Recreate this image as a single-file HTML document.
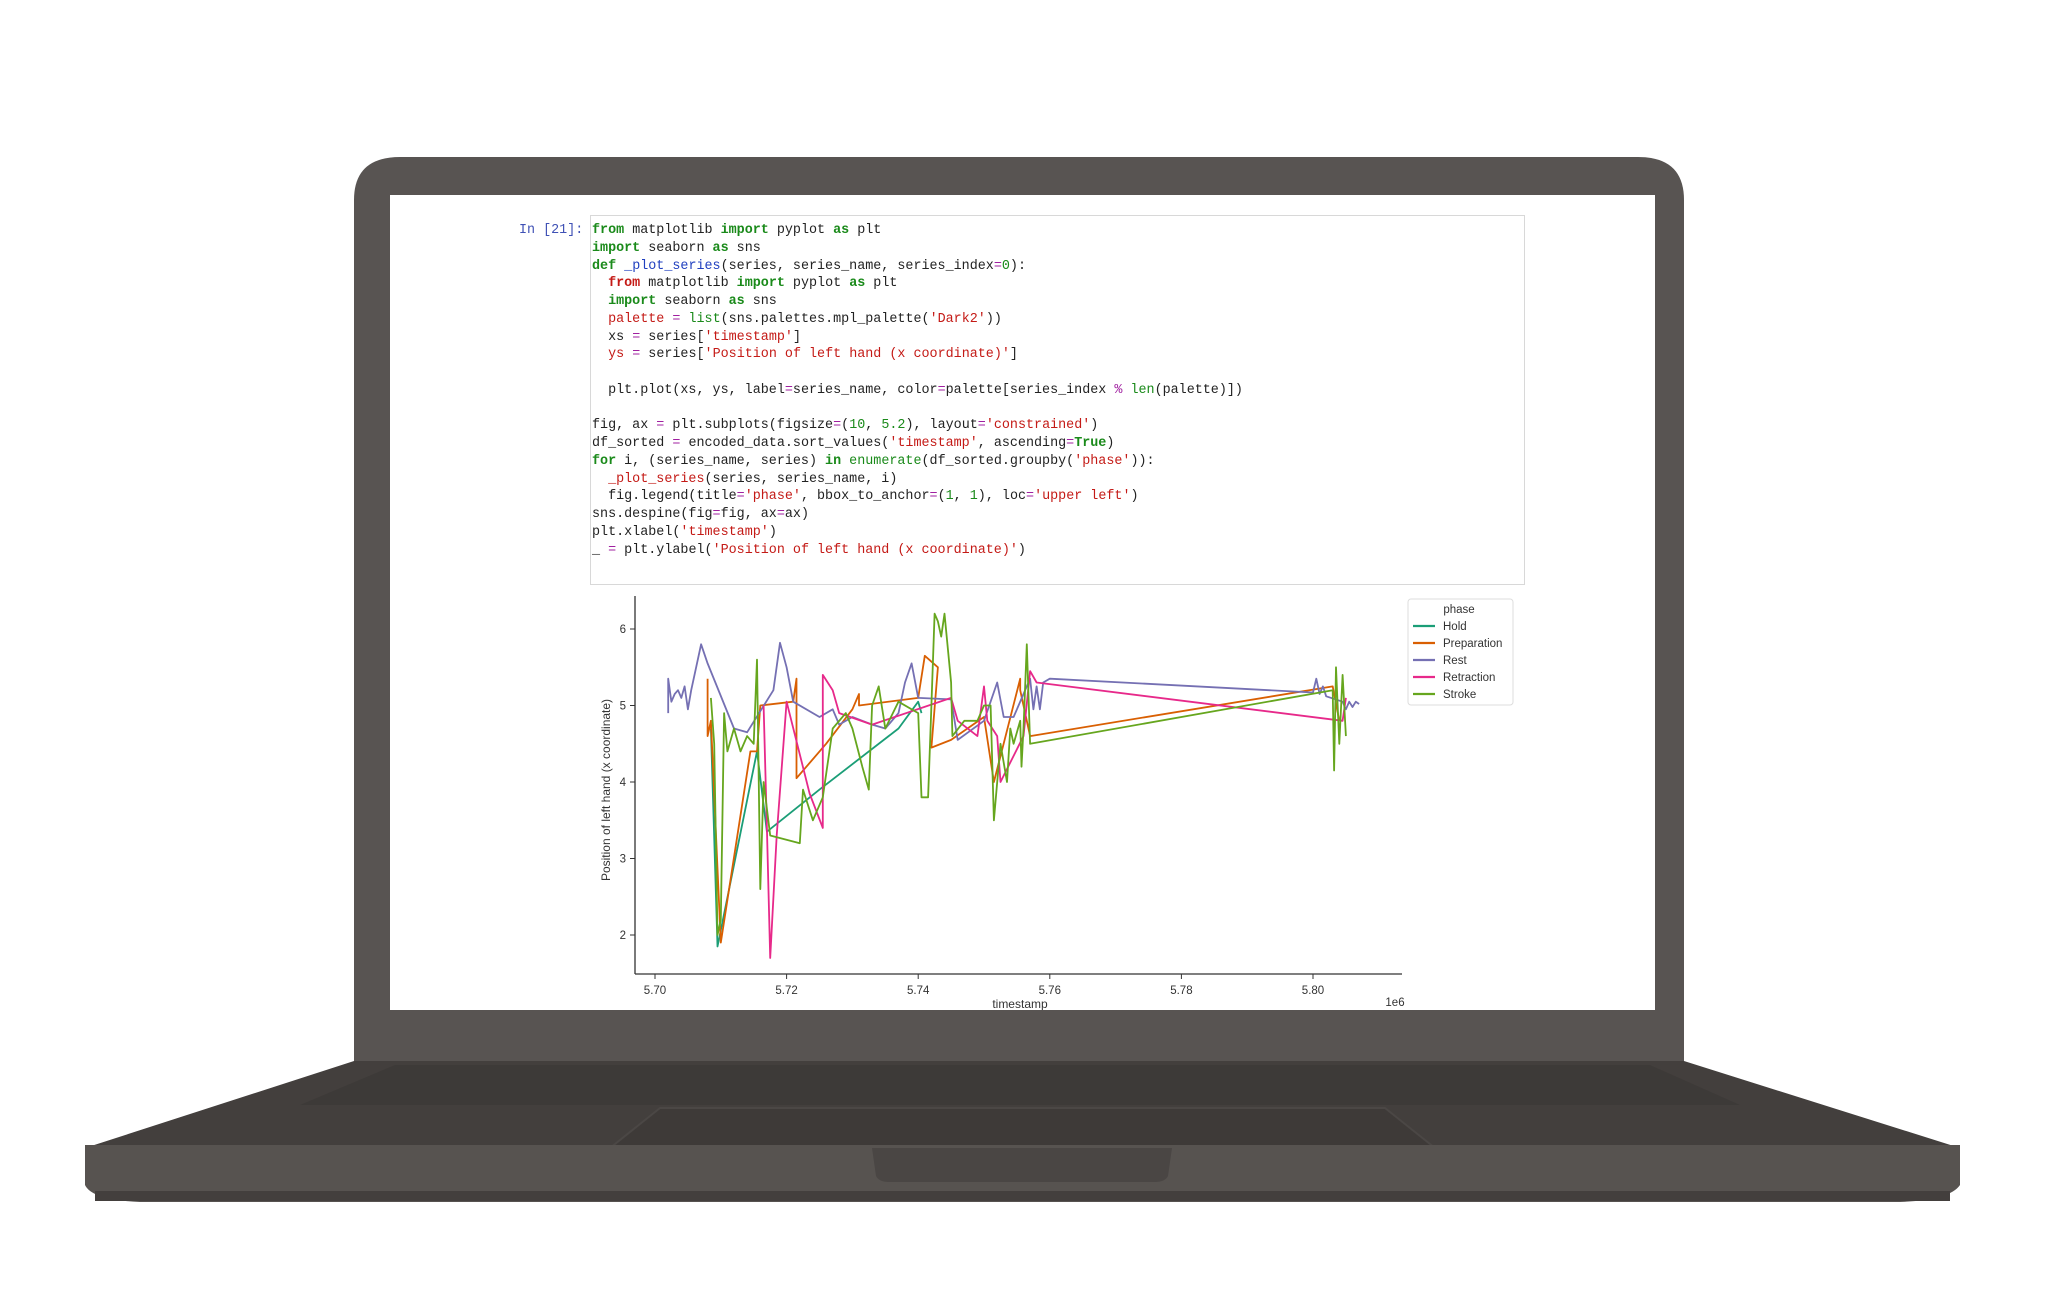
<!DOCTYPE html>
<html><head><meta charset="utf-8">
<style>
html,body{margin:0;padding:0;background:#fff;}
body{width:2046px;height:1291px;position:relative;overflow:hidden;font-family:"Liberation Sans",sans-serif;}
.code{position:absolute;left:592px;top:222px;font-family:"Liberation Mono",monospace;font-size:13.4px;line-height:17.75px;color:#222;white-space:pre;}
.kw{color:#1a8a1a;font-weight:bold}.st{color:#c41a16}.nm{color:#1a8a1a}.fn{color:#1f3fbf}.op{color:#a020a0}
</style></head><body>
<svg width="2046" height="1291" style="position:absolute;left:0;top:0">
  <path d="M354,1065 L354,200 Q354,157 400,157 L1638,157 Q1684,157 1684,200 L1684,1065 Z" fill="#585452"/>
  <rect x="390" y="195" width="1265" height="815" fill="#fff"/>
  <path d="M354,1061 L1684,1061 L1960,1148 L85,1148 Z" fill="#433f3d"/>
  <path d="M395,1065 L1650,1065 L1740,1105 L300,1105 Z" fill="#3b3735" opacity="0.6"/>
  <path d="M660,1108 L1385,1108 L1440,1152 L605,1152 Z" fill="#3e3a38" stroke="#4b4745" stroke-width="2"/>
  <path d="M85,1145 L1960,1145 L1960,1185 Q1950,1200 1900,1202 L140,1202 Q92,1200 85,1185 Z" fill="#575350"/>
  <rect x="95" y="1191" width="1855" height="10" fill="#433f3d"/>
  <path d="M872,1148 L1172,1148 L1168,1176 Q1165,1182 1155,1182 L889,1182 Q879,1182 876,1176 Z" fill="#4a4644"/>
</svg>

<div style="position:absolute;left:519px;top:222px;font-family:'Liberation Mono',monospace;font-size:13.4px;line-height:17.75px;color:#3f51b5">In [21]:</div>
<div style="position:absolute;left:590px;top:215px;width:933px;height:368px;border:1px solid #d8d8d8;background:#fff"></div>
<div class="code"><span class="kw">from</span> matplotlib <span class="kw">import</span> pyplot <span class="kw">as</span> plt
<span class="kw">import</span> seaborn <span class="kw">as</span> sns
<span class="kw">def</span> <span class="fn">_plot_series</span>(series, series_name, series_index<span class="op">=</span><span class="nm">0</span>):
  <span class="kw" style="color:#c41a16">from</span> matplotlib <span class="kw">import</span> pyplot <span class="kw">as</span> plt
  <span class="kw">import</span> seaborn <span class="kw">as</span> sns
  <span class="st">palette</span> <span class="op">=</span> <span class="nm">list</span>(sns.palettes.mpl_palette(<span class="st">'Dark2'</span>))
  xs <span class="op">=</span> series[<span class="st">'timestamp'</span>]
  <span class="st">ys</span> <span class="op">=</span> series[<span class="st">'Position of left hand (x coordinate)'</span>]

  plt.plot(xs, ys, label<span class="op">=</span>series_name, color<span class="op">=</span>palette[series_index <span class="op">%</span> <span class="nm">len</span>(palette)])

fig, ax <span class="op">=</span> plt.subplots(figsize<span class="op">=</span>(<span class="nm">10</span>, <span class="nm">5.2</span>), layout<span class="op">=</span><span class="st">'constrained'</span>)
df_sorted <span class="op">=</span> encoded_data.sort_values(<span class="st">'timestamp'</span>, ascending<span class="op">=</span><span class="kw">True</span>)
<span class="kw">for</span> i, (series_name, series) <span class="kw">in</span> <span class="nm">enumerate</span>(df_sorted.groupby(<span class="st">'phase'</span>)):
  <span class="st">_plot_series</span>(series, series_name, i)
  fig.legend(title<span class="op">=</span><span class="st">'phase'</span>, bbox_to_anchor<span class="op">=</span>(<span class="nm">1</span>, <span class="nm">1</span>), loc<span class="op">=</span><span class="st">'upper left'</span>)
sns.despine(fig<span class="op">=</span>fig, ax<span class="op">=</span>ax)
plt.xlabel(<span class="st">'timestamp'</span>)
_ <span class="op">=</span> plt.ylabel(<span class="st">'Position of left hand (x coordinate)'</span>)</div>

<svg id="chart" width="2046" height="1010" style="position:absolute;left:0;top:0;font-family:'Liberation Sans',sans-serif"></svg>

<script>
const xTicks=[5.70,5.72,5.74,5.76,5.78,5.80];
const xTickLabels=["5.70","5.72","5.74","5.76","5.78","5.80"];
const yTicks=[2,3,4,5,6];
const seriesNames=["Hold","Preparation","Rest","Retraction","Stroke"];
const seriesColors=["#1b9e77","#d95f02","#7570b3","#e7298a","#66a61e"];
const holdData=[[5.7085,4.7],[5.7095,1.85],[5.7155,4.4],[5.717,3.35],[5.725,3.9],[5.737,4.7],[5.740,5.05],[5.7405,4.9]];
const prepData=[[5.708,5.35],[5.708,4.6],[5.7085,4.8],[5.710,1.9],[5.7145,4.4],[5.7155,4.4],[5.716,5.0],[5.721,5.05],[5.7215,5.35],[5.7215,4.05],[5.726,4.5],[5.730,4.95],[5.731,5.15],[5.731,5.0],[5.740,5.1],[5.741,5.65],[5.743,5.5],[5.742,4.45],[5.745,4.55],[5.750,4.85],[5.7515,4.0],[5.7555,5.35],[5.7555,5.2],[5.757,4.6],[5.803,5.25],[5.804,4.8]];
const restData=[[5.702,4.9],[5.702,5.35],[5.7025,5.05],[5.703,5.15],[5.7035,5.2],[5.704,5.1],[5.7045,5.25],[5.705,4.95],[5.7055,5.2],[5.706,5.4],[5.707,5.8],[5.708,5.55],[5.712,4.7],[5.714,4.65],[5.718,5.2],[5.719,5.82],[5.720,5.5],[5.721,5.05],[5.725,4.85],[5.727,4.95],[5.728,4.75],[5.730,4.85],[5.733,4.75],[5.735,4.7],[5.737,4.9],[5.738,5.3],[5.739,5.55],[5.740,5.1],[5.745,5.08],[5.746,4.55],[5.750,4.8],[5.752,5.3],[5.753,4.85],[5.7545,4.85],[5.757,5.35],[5.7575,4.95],[5.758,5.25],[5.7585,4.95],[5.759,5.3],[5.760,5.35],[5.800,5.17],[5.8005,5.35],[5.801,5.15],[5.8015,5.25],[5.802,5.12],[5.8045,5.05],[5.805,4.95],[5.8055,5.05],[5.806,4.98],[5.8065,5.05],[5.807,5.02]];
const retrData=[[5.7165,5.0],[5.717,3.4],[5.7175,1.7],[5.7185,3.3],[5.720,5.05],[5.7235,3.85],[5.7255,3.4],[5.7255,5.4],[5.727,5.2],[5.728,4.9],[5.733,4.75],[5.745,5.1],[5.746,4.8],[5.749,4.6],[5.750,5.25],[5.7505,4.8],[5.752,4.6],[5.7525,4.0],[5.756,4.6],[5.757,5.45],[5.758,5.3],[5.8045,4.8],[5.805,5.1]];
const strokeData=[[5.7085,5.1],[5.709,4.5],[5.7095,2.0],[5.710,2.2],[5.7105,4.9],[5.711,4.4],[5.712,4.7],[5.713,4.4],[5.714,4.6],[5.715,4.5],[5.7155,5.6],[5.716,2.6],[5.7165,4.0],[5.7175,3.3],[5.722,3.2],[5.7225,3.9],[5.724,3.5],[5.7255,3.8],[5.727,4.7],[5.729,4.9],[5.730,4.7],[5.7315,4.2],[5.7325,3.9],[5.733,5.0],[5.734,5.25],[5.735,4.7],[5.737,5.05],[5.740,4.9],[5.7405,3.8],[5.7415,3.8],[5.742,5.0],[5.7425,6.2],[5.743,6.1],[5.7435,5.9],[5.744,6.2],[5.745,5.3],[5.7452,4.6],[5.747,4.8],[5.749,4.8],[5.750,5.0],[5.751,5.0],[5.7515,3.5],[5.7525,4.5],[5.7535,4.0],[5.754,4.7],[5.7545,4.5],[5.7555,4.8],[5.7557,4.2],[5.756,4.7],[5.7565,5.8],[5.757,4.5],[5.803,5.2],[5.8032,4.15],[5.8035,5.5],[5.804,4.5],[5.8045,5.4],[5.805,4.6]];
const allData=[holdData,prepData,restData,retrData,strokeData];

const NS="http://www.w3.org/2000/svg";
const svg=document.getElementById('chart');
const X=v=>655+(v-5.70)/0.02*131.6;
const Y=v=>629-(v-6)*76.5;
function mk(t,a){const e=document.createElementNS(NS,t);for(const k in a)e.setAttribute(k,a[k]);svg.appendChild(e);return e;}
let ax=mk('line',{x1:635,y1:596,x2:635,y2:974,stroke:'#333','stroke-width':1.3});


ax=mk('line',{x1:635,y1:974,x2:1402,y2:974,stroke:'#333','stroke-width':1.3});


xTicks.forEach((t,i)=>{
  let l=mk('line',{x1:X(t),y1:974,x2:X(t),y2:979,stroke:'#333'});
  
  
  let tx=mk('text',{x:X(t),y:994,'font-size':11.5,'text-anchor':'middle',fill:'#333'});tx.textContent=xTickLabels[i];
  
  
});
yTicks.forEach(t=>{
  let l=mk('line',{x1:630,y1:Y(t),x2:635,y2:Y(t),stroke:'#333'});
  
  
  let tx=mk('text',{x:626,y:Y(t)+4,'font-size':11.5,'text-anchor':'end',fill:'#333'});tx.textContent=String(t);
  
  
});
let yl=mk('text',{x:0,y:0,'font-size':12,'text-anchor':'middle',fill:'#333',transform:'translate(610,790) rotate(-90)'});
yl.textContent='Position of left hand (x coordinate)';


let xl=mk('text',{x:1020,y:1008,'font-size':12,'text-anchor':'middle',fill:'#333'});xl.textContent='timestamp';


let oe=mk('text',{x:1395,y:1006,'font-size':11.5,'text-anchor':'middle',fill:'#333'});oe.textContent='1e6';


allData.forEach((d,i)=>{
  let p=mk('polyline',{points:d.map(q=>X(q[0]).toFixed(1)+','+Y(q[1]).toFixed(1)).join(' '),fill:'none',stroke:seriesColors[i],'stroke-width':1.8,'stroke-linejoin':'round'});
  
  
});
let lb=mk('rect',{x:1408,y:599,width:105,height:106,fill:'#fff',stroke:'#ddd',rx:3});


let lt=mk('text',{x:1459,y:613,'font-size':11.5,'text-anchor':'middle',fill:'#333'});lt.textContent='phase';


seriesNames.forEach((n,i)=>{
  const yy=626+i*17;
  let l=mk('line',{x1:1413,y1:yy,x2:1435,y2:yy,stroke:seriesColors[i],'stroke-width':2.2});
  
  
  let t=mk('text',{x:1443,y:yy+4,'font-size':11.5,fill:'#333'});t.textContent=n;
  
  
});
</script>
</body></html>
